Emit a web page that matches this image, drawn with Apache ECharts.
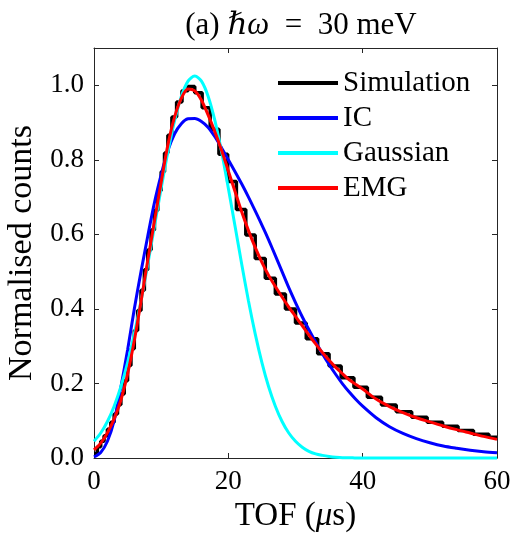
<!DOCTYPE html>
<html>
<head>
<meta charset="utf-8">
<script src="https://cdn.jsdelivr.net/npm/echarts@6/dist/echarts.min.js"></script>
<style>
  html, body { margin: 0; padding: 0; background: #fff; }
  #chart { width: 513px; height: 536px; }
</style>
</head>
<body>
<div id="chart"></div>
<script>
// Time-of-flight sample points (µs) for the fitted curves
const curveTof = [0,1,2,3,4,5,6,7,8,9,10,11,12,13,14,15,16,17,18,19,20,21,22,23,24,25,26,27,28,29,30,
  31,32,33,34,35,36,37,38,39,40,42,44,46,48,50,52,54,56,58,60];

// IC fit
const icValues = [0.003,0.015,0.045,0.100,0.190,0.290,0.400,0.500,0.595,0.685,0.760,0.825,0.870,0.897,0.910,0.911,
  0.903,0.887,0.862,0.832,0.800,0.768,0.735,0.700,0.663,0.625,0.585,0.543,0.500,0.457,0.417,
  0.379,0.344,0.311,0.280,0.251,0.224,0.199,0.177,0.157,0.139,0.108,0.084,0.066,0.052,0.041,0.032,0.026,0.021,0.017,0.014];

// Gaussian fit
const gaussianValues = [0.045,0.067,0.098,0.139,0.191,0.256,0.333,0.421,0.519,0.622,0.724,0.821,0.905,0.970,1.011,1.025,
  1.011,0.970,0.905,0.821,0.724,0.622,0.519,0.421,0.333,0.256,0.191,0.139,0.098,0.067,0.045,
  0.029,0.018,0.011,0.007,0.004,0.002,0.001,0.001,0,0,0,0,0,0,0,0,0,0,0,0];

// EMG fit
const emgValues = [0.022,0.040,0.068,0.105,0.155,0.225,0.315,0.420,0.530,0.635,0.740,0.840,0.915,0.965,0.990,0.985,
  0.960,0.920,0.875,0.825,0.770,0.715,0.660,0.610,0.565,0.525,0.490,0.460,0.432,0.405,0.380,
  0.355,0.330,0.306,0.283,0.262,0.243,0.226,0.210,0.197,0.185,0.158,0.138,0.122,0.108,0.097,0.086,0.076,0.067,0.058,0.050];

// Simulated histogram: bin edges (µs) and normalised counts per bin
const simEdges = [0,0.5,1.0,1.5,2.0,2.5,3.0,3.5,4.0,4.5,5.0,5.5,6.0,6.5,7.0,7.5,8.0,8.5,9.0,9.5,10.0,10.5,11.0,
  11.6,12.3,13.1,14.0,15.0,16.1,17.3,18.6,19.9,21.2,22.6,24.0,
  25.5,27.0,28.5,30.0,31.6,33.3,35.0,36.8,38.7,40.7,42.8,45.0,47.3,49.6,51.9,54.2,56.5,58.8,60];
const simCounts = [0.012,0.030,0.045,0.060,0.077,0.096,0.118,0.143,0.172,0.207,0.248,0.293,0.342,0.396,0.450,0.505,
  0.558,0.612,0.664,0.717,0.768,0.818,
  0.866,0.915,0.955,0.985,0.997,0.980,0.940,0.882,0.815,0.742,0.667,0.598,
  0.535,0.482,0.440,0.400,0.362,0.320,0.280,0.247,0.215,0.190,0.163,0.142,0.124,0.109,0.096,0.085,0.074,0.064,0.056];

const xTicks = [0, 20, 40, 60];
const yTicks = [0, 0.2, 0.4, 0.6, 0.8, 1.0];

const seriesNames = ['Simulation', 'IC', 'Gaussian', 'EMG'];
const seriesColors = ['#000000', '#0000ff', '#00ffff', '#ff0000'];

const FONT = '"Liberation Serif", "DejaVu Serif", serif';
const AXIS_COLOR = '#262626';

const pairs = (xs, ys) => ys.map((y, i) => [xs[i], y]);
const simData = simCounts.map((c, i) => [simEdges[i], c]);
simData.push([simEdges[simEdges.length - 1], simCounts[simCounts.length - 1]]);

const chart = echarts.init(document.getElementById('chart'), null, { renderer: 'canvas' });

const tickCommon = { show: true, inside: true, length: 5, lineStyle: { color: AXIS_COLOR, width: 1 } };
const lineCommon = { show: true, onZero: false, lineStyle: { color: AXIS_COLOR, width: 1 } };

function curve(name, data, color, width, extra) {
  return Object.assign({
    name, type: 'line', data, showSymbol: false, symbol: 'none', clip: false,
    lineStyle: { color, width }, itemStyle: { color }, animation: false,
    smooth: 0.3
  }, extra || {});
}

chart.setOption({
  animation: false,
  backgroundColor: '#ffffff',
  title: {
    text: '{n|(a) }{i|ℏω}{n|\u2002=\u200230 meV}',
    left: 296, top: 5, textAlign: 'center',
    textStyle: {
      fontWeight: 'normal',
      rich: {
        n: { fontFamily: FONT, fontSize: 31, fontWeight: 'normal', color: '#000' },
        i: { fontFamily: FONT, fontSize: 31, fontWeight: 'normal', fontStyle: 'italic', color: '#000' }
      }
    }
  },
  grid: { left: 94, right: 16, top: 48, bottom: 78, containLabel: false, outerBoundsMode: 'none' },
  legend: {
    orient: 'vertical', left: 278, top: 68, padding: 0, itemWidth: 60, itemHeight: 4, itemGap: 5,
    icon: 'rect',
    data: seriesNames,
    textStyle: { fontFamily: FONT, fontSize: 29, color: '#000', lineHeight: 30 }
  },
  xAxis: [
    {
      type: 'value', min: 0, max: 60, interval: 20,
      axisLine: lineCommon, axisTick: Object.assign({ customValues: xTicks }, tickCommon),
      splitLine: { show: false },
      axisLabel: { customValues: xTicks, margin: 10, fontFamily: FONT, fontSize: 27, color: '#000' },
      name: '{n|TOF (}{i|μ}{n|s)}', nameLocation: 'middle', nameGap: 42,
      nameTextStyle: {
        rich: {
          n: { fontFamily: FONT, fontSize: 33, color: '#000' },
          i: { fontFamily: FONT, fontSize: 33, fontStyle: 'italic', color: '#000' }
        }
      }
    },
    {
      type: 'value', min: 0, max: 60, interval: 20, position: 'top',
      axisLine: lineCommon, axisTick: Object.assign({ customValues: xTicks }, tickCommon),
      splitLine: { show: false }, axisLabel: { show: false }
    }
  ],
  yAxis: [
    {
      type: 'value', min: 0, max: 1.1, interval: 0.2,
      axisLine: lineCommon, axisTick: Object.assign({ customValues: yTicks }, tickCommon),
      splitLine: { show: false },
      axisLabel: {
        customValues: yTicks, margin: 10, fontFamily: FONT, fontSize: 27, color: '#000',
        formatter: v => v.toFixed(1)
      },
      name: 'Normalised counts', nameLocation: 'middle', nameGap: 45, nameRotate: 90,
      nameTextStyle: { fontFamily: FONT, fontSize: 34, color: '#000' }
    },
    {
      type: 'value', min: 0, max: 1.1, interval: 0.2, position: 'right',
      axisLine: lineCommon, axisTick: Object.assign({ customValues: yTicks }, tickCommon),
      splitLine: { show: false }, axisLabel: { show: false }
    }
  ],
  series: [
    curve('Simulation', simData, seriesColors[0], 3.5, { step: 'end', smooth: false }),
    curve('IC', pairs(curveTof, icValues), seriesColors[1], 3),
    curve('Gaussian', pairs(curveTof, gaussianValues), seriesColors[2], 3),
    curve('EMG', pairs(curveTof, emgValues), seriesColors[3], 3)
  ]
});
</script>
</body>
</html>
